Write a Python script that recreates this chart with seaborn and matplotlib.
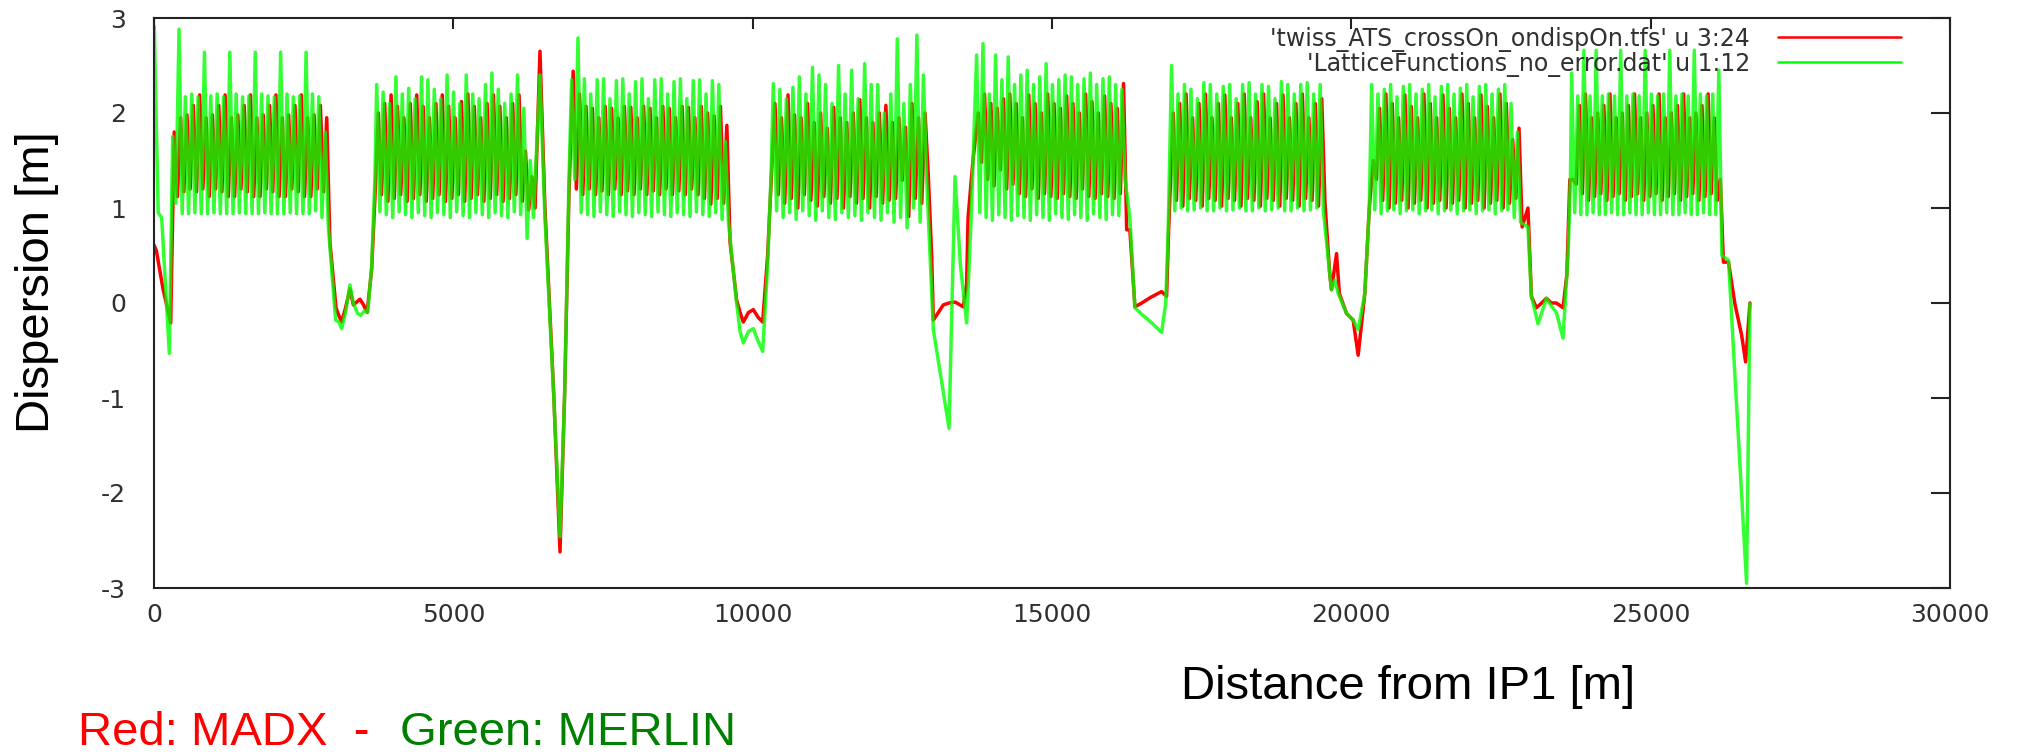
import numpy as np
import pandas as pd
import matplotlib
matplotlib.use("Agg")
import matplotlib.pyplot as plt
import seaborn as sns

# Arc boundaries along the ring [m]
arc_start = [312, 3720, 6975, 10345, 13741, 16997, 20339, 23680]
arc_end = [2965, 6392, 9649, 12961, 16274, 19587, 22880, 26241]

# MADX (red): straight sections / dispersion suppressors, read point by point
madx_gap_s = [
    [0, 40, 150, 279],
    [3040, 3080, 3134, 3200, 3273, 3330, 3440, 3500, 3560, 3635, 3690],
    [6447, 6530, 6675, 6782, 6860, 6932],
    [9732, 9800, 9844, 9930, 10011, 10090, 10167, 10250, 10310],
    [12990, 13018, 13185, 13280, 13380, 13518, 13574, 13598, 13680],
    [16300, 16385, 16500, 16650, 16831, 16914, 16950],
    [19640, 19669, 19753, 19800, 19920, 20031, 20114, 20225, 20300],
    [22950, 23008, 23091, 23180, 23258, 23340, 23425, 23536, 23600, 23650],
    [26300, 26407, 26520, 26586, 26658],
]
madx_gap_d = [
    [0.61, 0.55, 0.15, -0.21],
    [-0.05, -0.12, -0.2, -0.05, 0.15, -0.02, 0.04, -0.02, -0.1, 0.35, 1.1],
    [2.65, 1.0, -0.93, -2.62, -0.93, 1.17],
    [0.03, -0.12, -0.2, -0.1, -0.07, -0.15, -0.2, 0.5, 1.3],
    [0.5, -0.18, -0.02, 0.0, 0.01, -0.04, 0.2, 0.9, 1.5],
    [0.77, -0.04, 0.0, 0.06, 0.12, 0.07, 0.8],
    [0.3, 0.14, 0.52, 0.1, -0.11, -0.18, -0.55, 0.1, 1.0],
    [1.0, 0.07, -0.05, 0.0, 0.05, 0.0, 0.0, -0.05, 0.3, 1.3],
    [0.43, -0.01, -0.34, -0.62, 0.0],
]

# MADX arc cells: peak (focusing quad) and trough (defocusing quad) values
madx_arc_hi = [
    [1.8, 1.95, 1.98, 2.08, 2.19, 1.95, 1.98, 2.08, 2.19, 1.95, 1.98, 2.08, 2.19,
     1.95, 1.98, 2.08, 2.19, 1.95, 1.98, 2.08, 2.19, 1.95, 1.98, 2.08, 1.95],
    [2.0, 2.1, 2.19, 2.07, 1.95, 2.1, 2.19, 2.07, 1.95, 2.1, 2.19, 2.07, 1.95,
     2.12, 2.2, 2.07, 1.95, 2.1, 2.19, 2.07, 1.95, 2.1, 2.19, 1.6, 1.33],
    [2.44, 2.2, 2.07, 2.05, 1.95, 2.07, 2.05, 1.95, 2.07, 2.06, 1.95, 2.07, 2.05,
     1.95, 2.07, 2.05, 1.95, 2.07, 2.06, 1.95, 2.07, 2.0, 1.97, 2.07, 1.87],
    [2.1, 1.95, 2.19, 1.98, 1.95, 2.1, 1.9, 2.0, 1.84, 2.06, 1.95, 1.9,
     2.0, 2.14, 1.95, 1.9, 2.0, 2.08, 1.9, 1.95, 1.85, 2.1, 1.95, 2.0],
    [2.0, 2.2, 2.1, 2.05, 2.15, 2.2, 2.1, 1.95, 2.19, 2.1, 2.0, 2.2,
     2.1, 2.05, 2.18, 2.1, 2.0, 2.2, 2.12, 2.0, 2.18, 2.1, 2.05, 2.31],
    [2.0, 2.1, 2.2, 1.95, 2.1, 2.2, 1.95, 2.1, 2.19, 1.95, 2.1, 2.2,
     1.95, 2.12, 2.2, 1.95, 2.1, 2.19, 1.95, 2.1, 2.2, 1.95, 2.1, 2.15],
    [1.5, 2.05, 2.2, 2.1, 1.95, 2.19, 2.07, 1.95, 2.2, 2.1, 1.95, 2.19,
     2.05, 1.95, 2.2, 2.1, 1.95, 2.19, 2.07, 1.95, 2.2, 2.1, 1.72, 1.84],
    [1.3, 2.08, 2.2, 1.95, 2.0, 2.08, 2.2, 1.95, 2.0, 2.08, 2.2, 1.95, 2.0,
     2.08, 2.2, 1.95, 2.0, 2.08, 2.2, 1.95, 2.0, 2.08, 2.2, 1.95, 1.3],
]
madx_arc_lo = [
    [1.12, 1.17, 1.2, 1.17, 1.2, 1.12, 1.2, 1.17, 1.12, 1.12, 1.2, 1.17, 1.12,
     1.12, 1.2, 1.17, 1.12, 1.12, 1.2, 1.17, 1.12, 1.12, 1.2, 1.17, 0.64],
    [1.14, 1.07, 1.1, 1.14, 1.07, 1.1, 1.14, 1.07, 1.1, 1.14, 1.07, 1.1, 1.14,
     1.07, 1.1, 1.14, 1.07, 1.1, 1.14, 1.07, 1.1, 1.14, 1.07, 0.98, 1.0],
    [1.2, 1.14, 1.2, 1.14, 1.18, 1.14, 1.2, 1.14, 1.18, 1.14, 1.2, 1.14, 1.18,
     1.14, 1.2, 1.14, 1.18, 1.14, 1.2, 1.14, 1.1, 1.04, 1.1, 1.05, 0.64],
    [1.14, 1.05, 1.1, 1.0, 1.14, 1.08, 1.02, 1.12, 1.05, 1.1, 1.0, 1.12,
     1.05, 1.1, 1.0, 1.12, 1.05, 1.08, 1.1, 1.29, 0.91, 1.1, 1.05, 1.34],
    [1.48, 1.3, 1.23, 1.4, 1.2, 1.25, 1.15, 1.12, 1.2, 1.1, 1.15, 1.12,
     1.1, 1.15, 1.12, 1.1, 1.2, 1.12, 1.1, 1.15, 1.12, 1.1, 1.15, 0.77],
    [1.08, 1.02, 1.1, 1.08, 1.02, 1.1, 1.08, 1.02, 1.1, 1.08, 1.02, 1.1,
     1.08, 1.02, 1.1, 1.08, 1.02, 1.1, 1.08, 1.02, 1.1, 1.08, 1.02, 1.05],
    [1.3, 1.08, 1.0, 1.05, 1.08, 1.0, 1.05, 1.08, 1.0, 1.05, 1.08, 1.0,
     1.05, 1.08, 1.0, 1.05, 1.08, 1.0, 1.05, 1.08, 1.0, 1.05, 1.1, 0.8],
    [1.25, 1.15, 1.08, 1.12, 1.15, 1.08, 1.12, 1.15, 1.08, 1.12, 1.15, 1.08, 1.12,
     1.15, 1.08, 1.12, 1.15, 1.08, 1.12, 1.15, 1.08, 1.12, 1.15, 1.08, 0.43],
]

# MERLIN (green)
merlin_gap_s = [
    [5, 70, 128, 256],
    [3034, 3090, 3134, 3200, 3273, 3329, 3400, 3450, 3520, 3570, 3635, 3690],
    [6447, 6530, 6675, 6782, 6860, 6932],
    [9732, 9790, 9844, 9930, 10011, 10090, 10167, 10250, 10310],
    [13018, 13150, 13280, 13380, 13470, 13574, 13650],
    [16300, 16385, 16500, 16650, 16831, 16900, 16942],
    [19640, 19669, 19725, 19781, 19920, 20031, 20114, 20225, 20300],
    [22950, 23008, 23119, 23258, 23340, 23425, 23536, 23620, 23660],
    [26300, 26602, 26658],
]
merlin_gap_d = [
    [2.91, 0.95, 0.9, -0.53],
    [-0.18, -0.2, -0.27, -0.1, 0.19, 0.0, -0.11, -0.13, -0.08, -0.1, 0.38, 1.3],
    [2.40, 0.9, -0.95, -2.46, -0.95, 1.3],
    [0.0, -0.3, -0.42, -0.3, -0.27, -0.4, -0.51, 0.4, 1.4],
    [-0.28, -0.8, -1.32, 1.33, 0.4, -0.21, 0.9],
    [0.9, -0.05, -0.12, -0.2, -0.31, 0.0, 0.8],
    [0.3, 0.14, 0.24, 0.1, -0.11, -0.18, -0.28, 0.1, 1.0],
    [0.8, 0.07, -0.22, 0.05, -0.03, -0.1, -0.37, 0.5, 1.3],
    [0.45, -2.95, -0.01],
]
merlin_arc_hi = [
    [1.75, 2.88, 2.17, 2.2, 2.17, 2.64, 2.18, 2.2, 2.17, 2.64, 2.2, 2.17, 2.18,
     2.64, 2.2, 2.18, 2.17, 2.64, 2.2, 2.17, 2.18, 2.64, 2.2, 2.17, 1.8],
    [2.3, 2.22, 2.1, 2.38, 2.2, 2.26, 2.15, 2.38, 2.35, 2.25, 2.15, 2.4, 2.22,
     2.1, 2.4, 2.2, 2.15, 2.3, 2.42, 2.25, 2.1, 2.2, 2.4, 2.05, 1.5],
    [2.35, 2.79, 2.36, 2.2, 2.35, 2.36, 2.15, 2.34, 2.36, 2.2, 2.33, 2.36, 2.15,
     2.35, 2.36, 2.2, 2.33, 2.36, 2.15, 2.34, 2.35, 2.2, 2.34, 2.3, 1.7],
    [2.31, 2.25, 2.15, 2.27, 2.38, 2.2, 2.48, 2.4, 2.3, 2.1, 2.5, 2.2,
     2.45, 2.15, 2.52, 2.3, 2.3, 2.0, 2.2, 2.78, 2.1, 2.3, 2.82, 2.4],
    [2.61, 2.73, 2.2, 2.61, 2.35, 2.59, 2.3, 2.4, 2.45, 2.3, 2.38, 2.52,
     2.3, 2.35, 2.4, 2.38, 2.3, 2.36, 2.42, 2.3, 2.36, 2.38, 2.3, 2.25],
    [2.5, 2.2, 2.3, 2.25, 2.15, 2.32, 2.3, 2.2, 2.28, 2.3, 2.15, 2.3,
     2.32, 2.2, 2.3, 2.28, 2.15, 2.33, 2.3, 2.2, 2.3, 2.32, 2.2, 2.3],
    [2.3, 2.2, 2.25, 2.3, 2.17, 2.28, 2.3, 2.2, 2.25, 2.3, 2.17, 2.28,
     2.3, 2.2, 2.26, 2.3, 2.17, 2.28, 2.3, 2.2, 2.25, 2.3, 2.1, 1.8],
    [2.42, 2.18, 2.66, 2.18, 2.66, 2.18, 2.2, 2.18, 2.66, 2.18, 2.2, 2.18, 2.66,
     2.2, 2.18, 2.2, 2.66, 2.18, 2.2, 2.18, 2.66, 2.2, 2.18, 2.2, 2.45],
]
merlin_arc_lo = [
    [1.05, 0.94, 0.94, 0.95, 0.94, 0.94, 0.95, 0.94, 0.94, 0.94, 0.95, 0.94, 0.94,
     0.94, 0.95, 0.94, 0.94, 0.94, 0.95, 0.94, 0.94, 0.94, 0.97, 0.9, 0.8],
    [0.96, 0.93, 0.9, 0.96, 0.93, 0.9, 0.95, 0.92, 0.9, 0.95, 0.93, 0.9, 0.96,
     0.92, 0.9, 0.95, 0.93, 0.9, 0.95, 0.92, 0.9, 0.96, 0.93, 0.68, 0.9],
    [1.3, 0.95, 0.93, 0.91, 0.96, 0.93, 0.91, 0.96, 0.93, 0.91, 0.95, 0.93, 0.91,
     0.96, 0.93, 0.91, 0.95, 0.93, 0.91, 0.96, 0.93, 0.91, 0.95, 0.88, 0.85],
    [0.97, 0.9, 0.95, 0.88, 0.97, 0.92, 0.87, 0.97, 0.9, 0.88, 0.95, 0.9,
     0.92, 0.87, 0.95, 0.9, 0.87, 0.95, 0.85, 0.9, 0.79, 1.0, 0.85, 1.3],
    [0.95, 0.9, 0.87, 0.93, 0.9, 0.87, 0.92, 0.9, 0.87, 0.93, 0.9, 0.87,
     0.94, 0.9, 0.88, 0.93, 0.9, 0.87, 0.94, 0.9, 0.88, 0.93, 0.92, 1.3],
    [0.97, 1.0, 0.97, 0.98, 1.0, 0.97, 0.97, 1.0, 0.97, 0.98, 1.0, 0.97,
     0.97, 1.0, 0.97, 0.98, 1.0, 0.97, 0.97, 1.0, 0.97, 0.98, 1.0, 0.97],
    [0.98, 0.94, 0.97, 0.98, 0.94, 0.97, 0.98, 0.94, 0.97, 0.98, 0.94, 0.97,
     0.98, 0.94, 0.97, 0.98, 0.94, 0.97, 0.98, 0.94, 0.97, 0.98, 0.9, 0.85],
    [0.95, 0.93, 0.93, 0.95, 0.93, 0.93, 0.95, 0.93, 0.93, 0.95, 0.93, 0.93, 0.95,
     0.93, 0.93, 0.95, 0.93, 0.93, 0.95, 0.93, 0.93, 0.95, 0.93, 0.93, 0.5],
]

legend_labels = ["'twiss_ATS_crossOn_ondispOn.tfs' u 3:24",
                 "'LatticeFunctions_no_error.dat' u 1:12"]


def build_series(gap_s, gap_d, arc_hi, arc_lo, shift):
    # stitch straight sections and arcs (peak/trough per cell) in ring order
    s_all, d_all = [], []
    for i in range(len(gap_s)):
        s_all += gap_s[i]
        d_all += gap_d[i]
        if i < len(arc_start):
            n = len(arc_hi[i])
            cell = (arc_end[i] - arc_start[i]) / n
            for k in range(n):
                s_all += [arc_start[i] + (k + shift) * cell,
                          arc_start[i] + (k + shift + 0.5) * cell]
                d_all += [arc_hi[i][k], arc_lo[i][k]]
    return pd.DataFrame({"s": s_all, "D": d_all})


madx = build_series(madx_gap_s, madx_gap_d, madx_arc_hi, madx_arc_lo, 0.25)
merlin = build_series(merlin_gap_s, merlin_gap_d, merlin_arc_hi, merlin_arc_lo, 0.0)

sns.set_style("white")
plt.rcParams["font.family"] = ["DejaVu Sans"]
plt.rcParams["axes.unicode_minus"] = False

fig = plt.figure(figsize=(20.24, 7.55), dpi=100)
ax = fig.add_axes([154 / 2024, 167 / 755, 1796 / 2024, 570 / 755])

sns.lineplot(data=madx, x="s", y="D", color="#ff0000", linewidth=2.5,
             estimator=None, sort=False, label=legend_labels[0], ax=ax)
sns.lineplot(data=merlin, x="s", y="D", color="#00ff00", linewidth=2.5, alpha=0.8,
             estimator=None, sort=False, label=legend_labels[1], ax=ax)

ax.set_xlim(0, 30000)
ax.set_ylim(-3, 3)
ax.set_xticks(np.arange(0, 30001, 5000))
ax.set_yticks(np.arange(-3, 3.1, 1))
ax.tick_params(axis="both", direction="in", top=True, right=True,
               labelsize=18, labelcolor="#303030", color="#222222", width=1.5)
ax.tick_params(axis="x", length=8, pad=11)
ax.tick_params(axis="y", length=14, pad=20)
for sp in ax.spines.values():
    sp.set_color("#222222")
    sp.set_linewidth(1.5)

ax.set_xlabel("Distance from IP1 [m]", family="Liberation Sans", fontsize=34,
              color="black")
ax.set_ylabel("Dispersion [m]", family="Liberation Sans", fontsize=34,
              color="black")
ax.xaxis.set_label_coords(0.698, -0.135)
ax.yaxis.set_label_coords(-0.053, 0.537)

leg = ax.legend(loc="upper right", bbox_to_anchor=(0.9727, 0.985), frameon=False,
                markerfirst=False, fontsize=17, handlelength=5.2, handletextpad=1.2,
                labelspacing=0.0, borderpad=0, borderaxespad=0)
for t in leg.get_texts():
    t.set_color("#303030")
for h in leg.get_lines():
    h.set_linewidth(1.8)
    h.set_alpha(1)

fig.text(78 / 2024, 10 / 755, "Red: MADX  -", color="#ff0000",
         family="Liberation Sans", fontsize=34, ha="left", va="baseline")
fig.text(400 / 2024, 10 / 755, "Green: MERLIN", color="#008000",
         family="Liberation Sans", fontsize=34, ha="left", va="baseline")

fig.savefig("out.png", dpi=100)
